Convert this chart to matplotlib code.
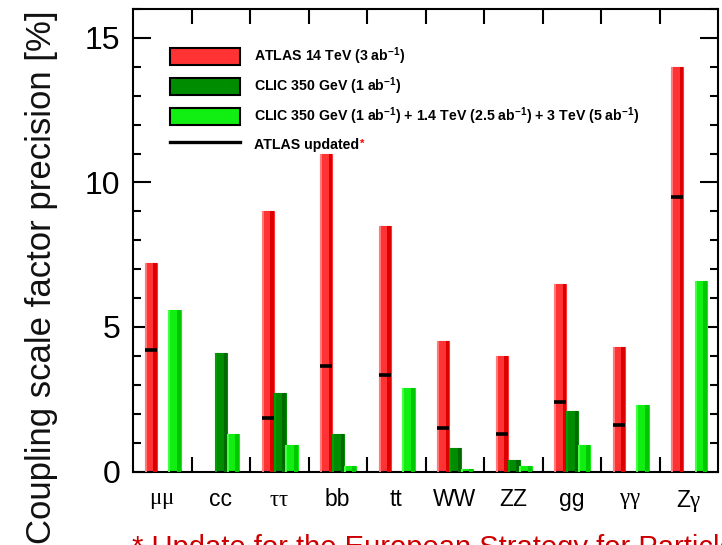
import numpy as np
import matplotlib
matplotlib.use('Agg')
import matplotlib.pyplot as plt
from matplotlib.patches import Patch
from matplotlib.lines import Line2D

plt.rcParams['font.family'] = ['Liberation Sans', 'DejaVu Sans']
plt.rcParams['mathtext.fontset'] = 'custom'
plt.rcParams['mathtext.rm'] = 'Liberation Serif'
plt.rcParams['mathtext.default'] = 'regular'

# ---------------- data ----------------
categories = [r'$\mathrm{\mu\mu}$', 'cc', r'$\mathrm{\tau\tau}$', 'bb', 'tt',
              'WW', 'ZZ', 'gg', r'$\mathrm{\gamma\gamma}$', r'Z$\mathrm{\gamma}$']
atlas_14tev = [7.2, 0.0, 9.0, 11.0, 8.5, 4.5, 4.0, 6.5, 4.3, 14.0]
clic_350 = [0.0, 4.1, 2.7, 1.3, 0.0, 0.8, 0.4, 2.1, 0.0, 0.0]
clic_all = [5.6, 1.3, 0.9, 0.2, 2.9, 0.1, 0.2, 0.9, 2.3, 6.6]
atlas_updated = [4.2, np.nan, 1.85, 3.65, 3.35, 1.5, 1.3, 2.4, 1.6, 9.5]

legend_labels = ['ATLAS 14 TeV (3 ab$^{-1}$)',
                 'CLIC 350 GeV (1 ab$^{-1}$)',
                 'CLIC 350 GeV (1 ab$^{-1}$) + 1.4 TeV (2.5 ab$^{-1}$) + 3 TeV (5 ab$^{-1}$)',
                 'ATLAS updated']
ylabel = 'Coupling scale factor precision [%]'
footnote = '* Update for the European Strategy for Particle Physics'

# ---------------- style ----------------
W, H = 722, 545
fig = plt.figure(figsize=(W / 100, H / 100), dpi=100)
ax = fig.add_axes([133 / W, 1 - 471.5 / H, (718 - 133) / W, (471.5 - 9) / H])

series = [
    (atlas_14tev, 0.20, '#ff3333', '#ff7a7a', '#dd0000'),
    (clic_350, 0.405, '#008c00', '#00a000', '#006a00'),
    (clic_all, 0.605, '#11ee11', '#44ff44', '#00c800'),
]
bw = 0.21
x0 = np.arange(len(categories))
for vals, off, main, light, dark in series:
    v = np.asarray(vals, dtype=float)
    ax.bar(x0 + off, v, width=bw, align='edge', color=main, edgecolor=main,
           linewidth=0.8, zorder=2)
    ax.bar(x0 + off, v, width=bw * 0.16, align='edge', color=light,
           linewidth=0, zorder=3)
    ax.bar(x0 + off + bw * 0.68, v, width=bw * 0.32, align='edge', color=dark,
           linewidth=0, zorder=3)

ax.hlines(atlas_updated, x0 + 0.20, x0 + 0.20 + bw, color='black', lw=2.6, zorder=4)

ax.set_xlim(0, 10)
ax.set_ylim(0, 16)

# y ticks
ax.set_yticks([0, 5, 10, 15])
ax.set_yticks(np.arange(0, 17, 1), minor=True)
ax.tick_params(axis='y', which='major', direction='in', length=13, width=1.5,
               left=True, right=True, labelsize=23, pad=9)
ax.tick_params(axis='y', which='minor', direction='in', length=6, width=1.5,
               left=True, right=True)

# x ticks: boundaries (major, no label) and centers (minor, labelled)
ax.set_xticks(np.arange(1, 10))
ax.set_xticklabels([])
ax.set_xticks(x0 + 0.5, minor=True)
ax.set_xticklabels(categories, minor=True)
ax.tick_params(axis='x', which='major', direction='in', length=11, width=1.5,
               top=True, bottom=True)
ax.tick_params(axis='x', which='minor', length=0, labelsize=16.5, pad=12)

for s in ax.spines.values():
    s.set_linewidth(1.5)

# legend
handles = [Patch(facecolor='#ff3333', edgecolor='black', linewidth=1.5),
           Patch(facecolor='#008c00', edgecolor='black', linewidth=1.5),
           Patch(facecolor='#11ee11', edgecolor='black', linewidth=1.5),
           Line2D([], [], color='black', lw=2.4)]
fs = 10.2
px = fs * 100 / 72
leg = ax.legend(handles, legend_labels, loc='upper left',
                bbox_to_anchor=((170 - 133) / 585, (471.5 - 45.5) / 462.5),
                frameon=False, borderpad=0, borderaxespad=0,
                prop={'weight': 'bold', 'size': fs},
                handlelength=70 / px, handleheight=21.5 / px,
                labelspacing=(30 - 21.5) / px,
                handletextpad=14 / px)

fig.canvas.draw()
t = leg.get_texts()[-1]
bb = t.get_window_extent()
fig.text(bb.x1 / W + 0.5 / W, bb.y1 / H - 1 / H, '*', color='red',
         fontsize=8, fontweight='bold', ha='left', va='top')

# y label and footnote
fig.text(42 / W, 1 - 10 / H, ylabel, rotation=90, ha='center', va='top',
         fontsize=25, color='#111111')
fig.text(132 / W, (H - 556) / H, footnote, ha='left', va='baseline',
         fontsize=21, color='#cc0000')

fig.savefig('out.png', dpi=100)
